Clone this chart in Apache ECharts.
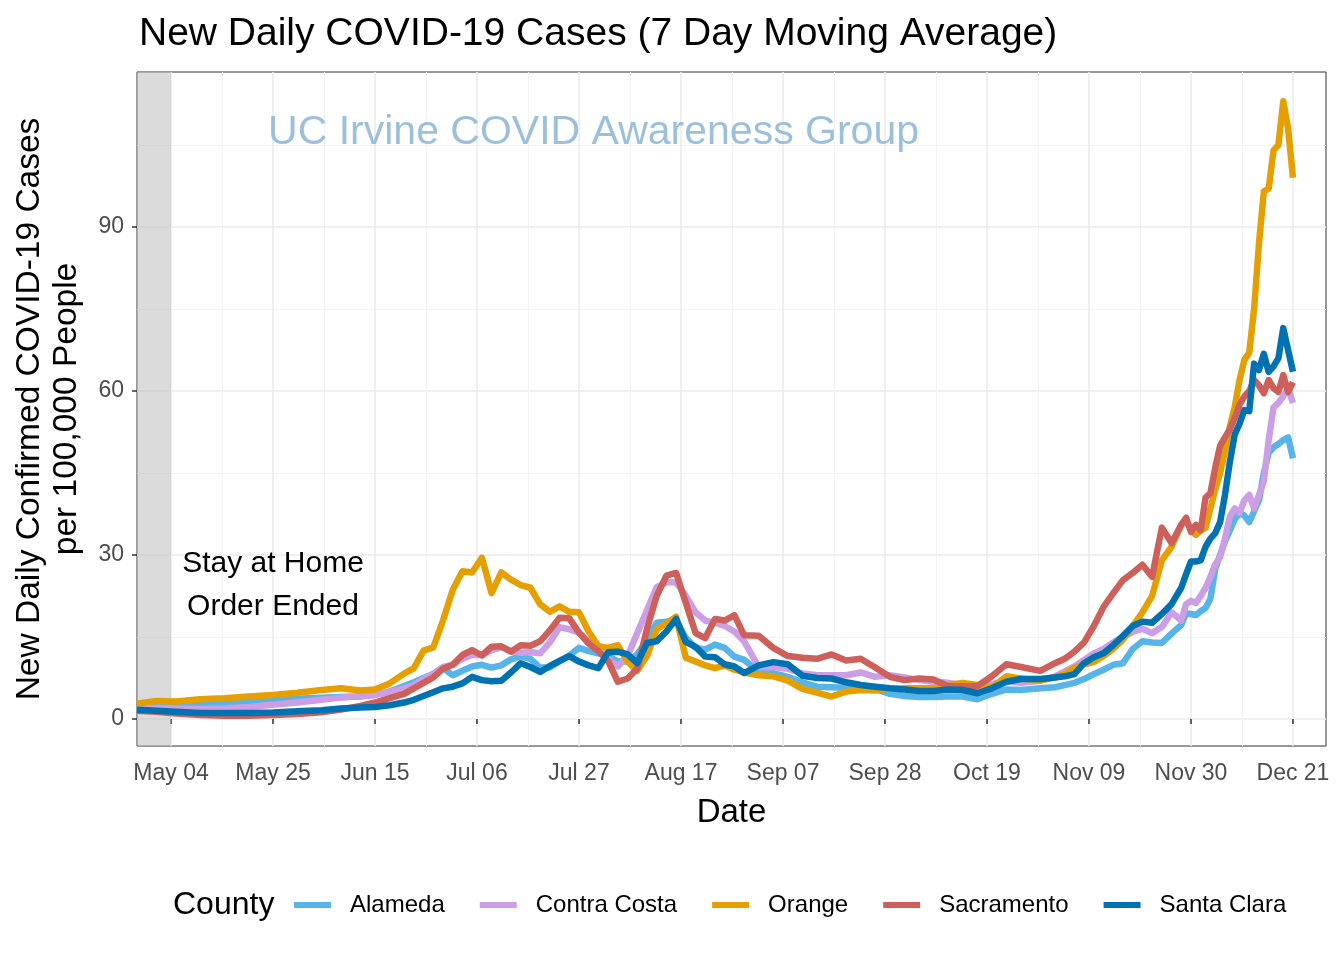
<!DOCTYPE html>
<html><head><meta charset="utf-8">
<script src="https://cdn.jsdelivr.net/npm/echarts@6/dist/echarts.min.js"></script>
<style>html,body{margin:0;padding:0;background:#fff}#c{width:1344px;height:960px}</style>
</head><body><div id="c"></div>
<script>
const dates = ['2020-04-27','2020-05-01','2020-05-05','2020-05-10','2020-05-15','2020-05-20','2020-05-25','2020-05-30','2020-06-04','2020-06-08','2020-06-12','2020-06-15','2020-06-18','2020-06-21',
'2020-06-23','2020-06-25','2020-06-27','2020-06-29','2020-07-01','2020-07-03','2020-07-05','2020-07-07','2020-07-09','2020-07-11','2020-07-13','2020-07-15','2020-07-17','2020-07-19','2020-07-21','2020-07-23','2020-07-25','2020-07-27','2020-07-29','2020-07-31','2020-08-02','2020-08-04','2020-08-06','2020-08-08','2020-08-10','2020-08-12','2020-08-14','2020-08-16','2020-08-18','2020-08-20','2020-08-22','2020-08-24','2020-08-26','2020-08-28','2020-08-30',
'2020-09-02','2020-09-05','2020-09-08','2020-09-11','2020-09-14','2020-09-17','2020-09-20','2020-09-23','2020-09-26','2020-09-29','2020-10-02','2020-10-05','2020-10-08','2020-10-11','2020-10-14','2020-10-17','2020-10-20','2020-10-23','2020-10-26','2020-10-30',
'2020-11-02','2020-11-04','2020-11-06','2020-11-08','2020-11-10','2020-11-12','2020-11-14','2020-11-16','2020-11-18','2020-11-20','2020-11-22','2020-11-24','2020-11-26','2020-11-28',
'2020-11-29','2020-11-30','2020-12-01','2020-12-02','2020-12-03','2020-12-04','2020-12-05','2020-12-06','2020-12-07','2020-12-08','2020-12-09','2020-12-10','2020-12-11','2020-12-12','2020-12-13','2020-12-14','2020-12-15','2020-12-16','2020-12-17','2020-12-18','2020-12-19','2020-12-20','2020-12-21'];

const alameda = [2.7,2.7,2.6,2.7,2.9,3.2,3.5,3.7,3.9,4,4.1,4.4,5,6,
6.7,7.5,8.2,9.3,8,8.8,9.6,9.9,9.4,9.8,10.9,11.5,11,9.4,9.4,10.6,11.6,13,12.4,12,11.5,10.5,10.5,11.8,14.4,17.6,17.8,18,14.8,13,12.7,13.6,13,11.4,10.8,
8.7,8.4,7.7,6.7,5.9,5.8,5.7,5.7,5.5,4.6,4.2,4,4,4.1,4.1,3.6,4.6,5.4,5.3,5.6,
5.8,6.2,6.6,7.3,8.2,9,9.9,10.2,12.8,14.2,14,13.9,15.6,17.2,
19.3,19.2,19,19.7,20.3,22,27.5,30,32.5,34.5,36.5,37.7,37.2,36,38,40,45,48.7,49.7,50.3,51,51.5,47.7];

const contraCosta = [2,2,1.9,1.8,1.9,2.2,2.6,3,3.5,3.9,4.2,4.4,5,5.6,
6.2,7.3,8.3,9.5,9.9,11,11.7,11.7,12.6,13.1,12.4,12.1,12.2,12,14,16.8,16.4,15.8,14.2,12.8,11,9.6,11.5,15.7,19.9,24.1,25,25,22.5,19.5,18,17.6,17,16,14.2,
9.5,9.5,9.2,8.3,8,8,8,8.5,7.7,8,7.6,7.1,6.8,6.6,6.2,5.9,6.4,6.9,6.6,7,
7.8,8.7,9.6,10.8,12,12.8,14,15,15.9,16.5,15.7,16.8,19.5,18,
21,21.6,21.2,22.5,24,26,28.3,29.6,33,37,38.5,37.7,40,41,38.5,41,43.5,51,57,57.8,59,60.5,57.8];

const orange = [2.8,3.3,3.2,3.6,3.8,4.1,4.4,4.8,5.3,5.6,5.2,5.4,6.5,8.3,
9.3,12.5,13.1,18,23.6,27,26.8,29.5,23,26.8,25.5,24.5,24,21,19.6,20.6,19.6,19.5,16,13.3,13,13.5,10.5,8.8,11.5,16.4,17.5,18.7,11.2,10.5,9.8,9.3,9.8,9,8.5,
8,7.8,7,5.5,4.8,4.1,5,5.3,5.2,5.5,5.6,5.6,5.6,6.2,6.6,6.2,5.8,7.8,7.4,7,
7.6,8.2,9.3,10,10.4,11.5,12.8,14.5,17,19.5,22.5,29,31.5,35.5,
36.4,34.5,33.7,34.5,35,38.5,42,45,49,53.5,57,62,65.7,67,75,87,96.5,97,104,105,113,108,99];

const sacramento = [1.5,1.3,1,0.7,0.6,0.6,0.7,0.9,1.2,1.7,2.4,3,3.8,4.6,
5.6,6.6,7.6,9.2,9.9,11.7,12.6,11.6,13.2,13.3,12.3,13.5,13.4,14.2,16.2,18.5,18.4,15.8,13.8,12.4,10.6,6.8,7.4,9.2,16.5,22.5,26.2,26.7,21.2,15.7,14.8,18.3,18,19,15.3,
15.2,13,11.5,11.2,11,11.8,10.7,11,9.4,7.7,7.1,7.4,7.2,6,6,6,7.8,10,9.5,8.8,
10.2,11,12.3,14,17,20.5,23,25.4,26.7,28.2,26,35,32.2,35.5,
36.8,34.2,35.5,34.5,40.5,41.3,46,50,51.5,53,55,57.5,59,60,62,61,59.6,62,60.5,59.8,62.9,59.8,61.6];

const santaClara = [1.7,1.5,1.3,1.1,1.1,1.1,1.2,1.4,1.6,1.9,2.1,2.2,2.5,3,
3.5,4.2,4.9,5.6,5.9,6.5,7.7,7.1,6.9,7,8.5,10.2,9.5,8.6,9.7,10.6,11.5,10.5,9.8,9.3,12.2,12.3,11.8,10.2,13.9,14.2,16,18.3,14.1,13.2,11.4,11.3,10,9.6,8.4,
9.8,10.4,10,7.9,7.5,7.4,6.7,6.2,5.9,5.6,5.4,5.1,5.1,5.4,5.3,4.7,5.6,6.8,7.3,7.3,
7.6,7.8,8.2,10.2,11.3,12,13.5,15.2,17,17.8,17.6,19.2,21,24,
26.5,28.8,28.8,29,31.5,33,34,36,41,47,52,54,56.5,56.3,65,63.8,66.8,63.5,64.5,66,71.5,67.5,63.5];

const counties = ['Alameda','Contra Costa','Orange','Sacramento','Santa Clara'];
const countyColors = ['#56B4E9','#CC9EE6','#E69F00','#CD605A','#0072B2'];
const tickDates = ['2020-05-04','2020-05-25','2020-06-15','2020-07-06','2020-07-27','2020-08-17','2020-09-07','2020-09-28','2020-10-19','2020-11-09','2020-11-30','2020-12-21'];
const tickLabels = ['May 04','May 25','Jun 15','Jul 06','Jul 27','Aug 17','Sep 07','Sep 28','Oct 19','Nov 09','Nov 30','Dec 21'];
const minorDates = ['2020-05-14 12:00','2020-06-04 12:00','2020-06-25 12:00','2020-07-16 12:00','2020-08-06 12:00','2020-08-27 12:00','2020-09-17 12:00','2020-10-08 12:00','2020-10-29 12:00','2020-11-19 12:00','2020-12-10 12:00'];
const yTicks = [0,30,60,90];
const yMinor = [15,45,75,105];

const P = s => +echarts.number.parseDate(s);
const DAY = 86400000;
const xMin = P('2020-04-27');
const xMax = xMin + 244.8 * DAY;
const tickTs = tickDates.map(P);
const minorTs = minorDates.map(P);
const FONT = '"Liberation Sans", Arial, Helvetica, sans-serif';

const seriesValues = [alameda, contraCosta, orange, sacramento, santaClara];
const lineSeries = counties.map((name, k) => ({
  name, type: 'line', xAxisIndex: 0, yAxisIndex: 0,
  data: dates.map((d, i) => [P(d), seriesValues[k][i]]),
  showSymbol: false, symbol: 'none',
  lineStyle: { width: 6.5, color: countyColors[k], join: 'round' },
  itemStyle: { color: countyColors[k] },
  emphasis: { disabled: true }, z: 3
}));

const annoSeries = {
  name: '', type: 'line', data: [], xAxisIndex: 0, yAxisIndex: 0, z: 2,
  markArea: { silent: true, itemStyle: { color: 'rgba(190,190,190,0.55)' },
    data: [[{ xAxis: xMin }, { xAxis: P('2020-05-04') }]] },
  markPoint: { silent: true, symbol: 'circle', symbolSize: 1, itemStyle: { color: 'rgba(0,0,0,0)' },
    data: [
      { coord: [P('2020-05-25'), 24.4], label: { show: true, position: 'inside', formatter: 'Stay at Home\nOrder Ended', fontSize: 30, lineHeight: 43, color: '#000', fontFamily: FONT, align: 'center' } },
      { coord: [P('2020-07-30'), 107.2], label: { show: true, position: 'inside', formatter: 'UC Irvine COVID Awareness Group', fontSize: 41, color: '#9CC0DC', fontFamily: FONT } }
    ] }
};

function tickLabelFor(v) {
  let b = 0, bd = Infinity;
  tickTs.forEach((t, i) => { const d = Math.abs(t - v); if (d < bd) { bd = d; b = i; } });
  return tickLabels[b];
}

const chart = echarts.init(document.getElementById('c'));
chart.setOption({
  animation: false,
  backgroundColor: '#fff',
  title: [
    { text: 'New Daily COVID-19 Cases (7 Day Moving Average)', left: 134, top: 10, textStyle: { fontSize: 39, fontWeight: 'normal', color: '#000', fontFamily: FONT } },
    { text: 'County', left: 168, top: 884, textStyle: { fontSize: 32, fontWeight: 'normal', color: '#000', fontFamily: FONT } }
  ],
  legend: {
    data: counties, left: 289, top: 888, icon: 'rect', itemWidth: 37, itemHeight: 6, itemGap: 35,
    textStyle: { fontSize: 24, color: '#000', fontFamily: FONT, padding: [0, 0, 0, 14] },
    selectedMode: false
  },
  grid: { left: 137, top: 72, width: 1189, height: 674, show: true, borderColor: '#333', borderWidth: 1, backgroundColor: '#fff' },
  xAxis: [
    { type: 'value', min: xMin, max: xMax,
      axisLine: { show: false },
      axisTick: { show: true, customValues: tickTs, length: 5, lineStyle: { color: '#333', width: 1.5 } },
      axisLabel: { customValues: tickTs, color: '#4D4D4D', fontSize: 23, fontFamily: FONT, margin: 16, formatter: tickLabelFor },
      splitLine: { show: true, lineStyle: { color: '#EBEBEB', width: 1.6 } },
      name: 'Date', nameLocation: 'middle', nameGap: 50,
      nameTextStyle: { fontSize: 33, color: '#000', fontFamily: FONT } },
    { type: 'value', min: xMin, max: xMax, position: 'bottom',
      axisLine: { show: false }, axisTick: { show: false, customValues: minorTs }, axisLabel: { show: false, customValues: minorTs },
      splitLine: { show: true, lineStyle: { color: '#F3F3F3', width: 1 } } }
  ],
  yAxis: [
    { type: 'value', min: -4.95, max: 118.35,
      axisLine: { show: false },
      axisTick: { show: true, customValues: yTicks, length: 5, lineStyle: { color: '#333', width: 1.5 } },
      axisLabel: { customValues: yTicks, color: '#4D4D4D', fontSize: 23, fontFamily: FONT, margin: 13 },
      splitLine: { show: true, lineStyle: { color: '#EBEBEB', width: 1.6 } },
      name: 'New Daily Confirmed COVID-19 Cases\nper 100,000 People', nameLocation: 'middle', nameGap: 52, nameRotate: 90,
      nameTextStyle: { fontSize: 33.5, color: '#000', lineHeight: 37, fontFamily: FONT, align: 'center' } },
    { type: 'value', min: -4.95, max: 118.35, position: 'left',
      axisLine: { show: false }, axisTick: { show: false, customValues: yMinor }, axisLabel: { show: false, customValues: yMinor },
      splitLine: { show: true, lineStyle: { color: '#F3F3F3', width: 1 } } }
  ],
  series: [annoSeries].concat(lineSeries)
});
</script>
</body></html>
